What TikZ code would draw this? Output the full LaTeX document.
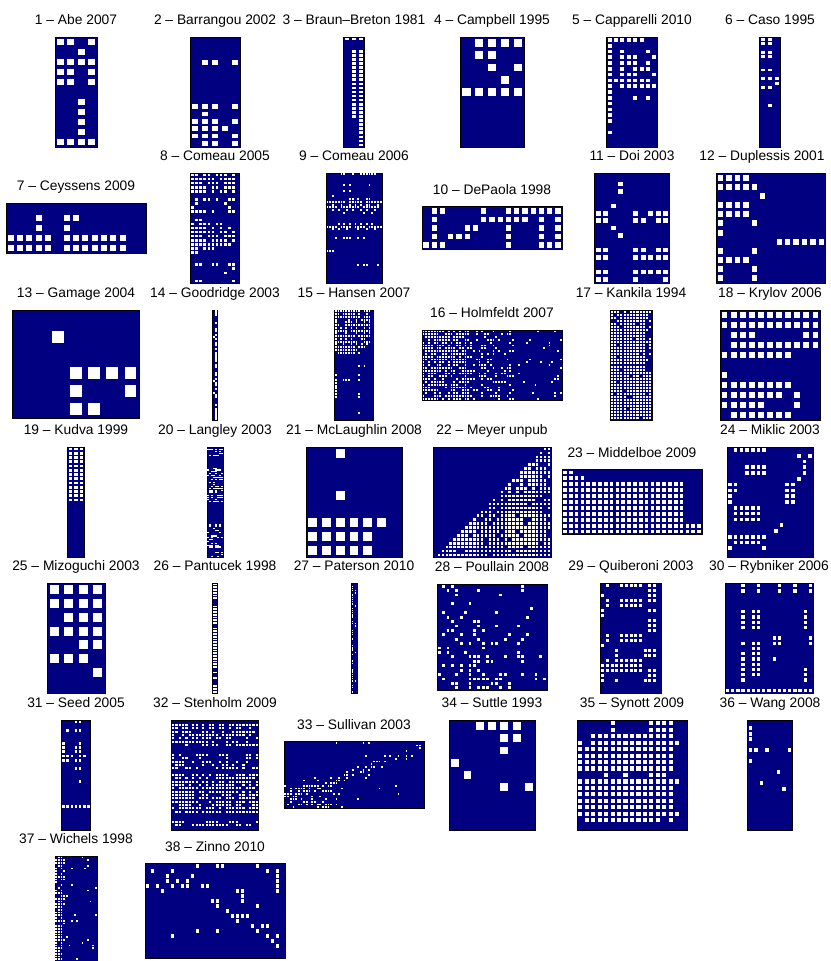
\documentclass[tikz,border=0pt]{standalone}
\usepackage{fontspec}
\setmainfont{Liberation Sans}
\usetikzlibrary{positioning}
\definecolor{navy}{RGB}{0,0,128}

% white cells given row by row: row/{columns}
\newcommand{\cellgrid}[4]{%
  \path (#1.north west); \pgfgetlastxy{\gxa}{\gya}%
  \path (#1.south east); \pgfgetlastxy{\gxb}{\gyb}%
  \pgfmathsetmacro\cw{(\gxb-\gxa)/#2}%
  \pgfmathsetmacro\ch{(\gya-\gyb)/#3}%
  \begin{scope}[shift={(#1.north west)}, x=\cw pt, y=-\ch pt]
    \foreach \ry/\cl in {#4}
      \foreach \cx in \cl
        \fill[cell] (\cx-.82,\ry-.82) rectangle (\cx-.18,\ry-.18);
  \end{scope}}

% white cells drawn with a probability p(\cx,\ry)
\newcommand{\randgrid}[5]{%
  \path (#1.north west); \pgfgetlastxy{\gxa}{\gya}%
  \path (#1.south east); \pgfgetlastxy{\gxb}{\gyb}%
  \pgfmathsetmacro\cw{(\gxb-\gxa)/#2}%
  \pgfmathsetmacro\ch{(\gya-\gyb)/#3}%
  \pgfmathsetseed{#4}%
  \begin{scope}[shift={(#1.north west)}, x=\cw pt, y=-\ch pt]
    \foreach \cx in {1,...,#2}
      \foreach \ry in {1,...,#3}{
        \pgfmathtruncatemacro\hit{rnd<(#5)}
        \ifnum\hit=1 \fill[cell] (\cx-.82,\ry-.82) rectangle (\cx-.18,\ry-.18);\fi}
  \end{scope}}

\begin{document}
\begin{tikzpicture}[x=1pt, y=-1pt,
  panel/.style={draw=black, line width=0.5pt, fill=navy, inner sep=0pt, outer sep=0pt},
  wh/.style 2 args={minimum width=#1pt, minimum height=#2pt},
  ttl/.style={inner sep=0pt, outer sep=0pt, text depth=0pt, font=\fontsize{13.8}{16}\selectfont},
  cell/.style={fill=white},
  node distance=12.5pt
]
\useasboundingbox (0,0) rectangle (830,961);
\clip (0,0) rectangle (830,961);

% row 1
\node[panel, wh={42}{110}] (p1) at (76,92) {};
\node[ttl, above=of p1] (t1) {1 -- Abe 2007};
\cellgrid{p1}{4}{11}{1/{1,2,4},2/3,3/{1,...,4},4/{1,2,4},5/{1,2,4},7/3,8/3,9/3,10/3,11/{1,...,4}}

\node[panel, wh={50}{110}] (p2) at (215,92) {};
\node[ttl, above=of p2] (t2) {2 -- Barrangou 2002};
\cellgrid{p2}{5}{15}{4/{2,3,5},10/{1,2,3,5},11/2,12/{1,2,3,5},13/{1,...,4},14/{1,2,3,5},15/{2,3,5}}

\node[panel, wh={21}{110}] (p3) at (354,92) {};
\node[ttl, above=of p3] (t3) {3 -- Braun--Breton 1981};
\randgrid{p3}{3}{27}{1}{(\ry==1)||((\ry>=4)&&(\ry<=20)&&(\cx>=2))||((\ry>=21)&&(\cx==3))}

\node[panel, wh={64}{110}] (p4) at (492,92) {};
\node[ttl, above=of p4] (t4) {4 -- Campbell 1995};
\cellgrid{p4}{5}{9}{1/{2,...,5},2/{2,3},3/{3,5},4/4,5/{1,...,5}}

\node[panel, wh={51}{110}] (p5) at (632,92) {};
\node[ttl, above=of p5] (t5) {5 -- Capparelli 2010};
\cellgrid{p5}{8}{19}{1/{1,...,6},2/1,3/{1,3,7},4/{1,3,4,5,8},5/{1,3,4,5,7},6/{1,3,5,6,7},7/{1,3,4,5,8},8/{1,...,7},9/{1,3,4,...,8},10/1,11/{1,5,7},12/1,13/1,14/1,15/1,17/1}

\node[panel, wh={21}{110}] (p6) at (770,92) {};
\node[ttl, above=of p6] (t6) {6 -- Caso 1995};
\cellgrid{p6}{3}{25}{1/{1,2},2/{1,2},4/{1,2},5/{1,2},8/{1,2},10/{1,2,3},11/3,12/{1,2},16/2}

% row 2
\node[panel, wh={140}{50}] (p7) at (76,228) {};
\node[ttl, above=of p7] (t7) {7 -- Ceyssens 2009};
\cellgrid{p7}{15}{5}{2/{4,7,8},3/{4,7},4/{1,...,5,7,8,...,13},5/{1,...,5,7,8,...,13}}

\node[panel, wh={49}{110}] (p8) at (215,228) {};
\node[ttl, above=of p8] (t8) {8 -- Comeau 2005};
\cellgrid{p8}{12}{27}{1/{1,2,4,5,7,8,9,11},2/{1,...,6,8,9,...,11},3/{1,2,3,5,6,7,9,10,11},4/{1,...,4,6,7,9,10,11},5/{1,...,4,6,8,9,11},7/{2,4,5,7,10,11},8/{2,9},9/{1,10},10/{1,...,4,6,10,11},12/{2,3},13/{1,3,4,5,7,8},14/{1,...,4,6,8,10},15/{1,...,6,8,9,11},16/{1,2,3,5,6,7,9,10,11},17/{1,...,4,6,7,...,9,11},18/{1,...,10},19/{1,2,4,5,6},20/{1,2},23/{2,3,6,7,10,11},24/11,25/9,27/{2,3,11}}

\node[panel, wh={56}{110}] (p9) at (354,228) {};
\node[ttl, above=of p9] (t9) {9 -- Comeau 2006};
\cellgrid{p9}{20}{40}{1/{6,7,10,13,14,...,18},5/{7,9,16},7/{7,9},9/3,10/{9,10,12,15,16},11/{1,...,7,9,10,...,13,15,16,...,20},12/{3,6,9,11,13,15,16,19},13/{1,...,4,6,7,...,12,14,15,...,19},14/{3,5,8,10,13,15,18},15/{7,14,17},19/{5,7,9,11,13,15,17},20/{1,...,4,6,7,...,9,11,12,...,14,16,17,...,20},21/{3,5,8,12,15,18},24/{4,7,8,9,12,14},29/{1,2,3},34/{12,14,15,19}}

\node[panel, wh={140}{43}] (p10) at (492,228) {};
\node[ttl, above=of p10] (t10) {10 -- DePaola 1998};
\cellgrid{p10}{17}{5}{1/{2,3,8,11,12,...,17},2/{2,8,9,...,13,15,17},3/{2,6,7,11,15,17},4/{2,4,5,6,11,15,17},5/{1,2,3,11,15,16,17}}

\node[panel, wh={75}{110}] (p11) at (632,228) {};
\node[ttl, above=of p11] (t11) {11 -- Doi 2003};
\cellgrid{p11}{10}{15}{2/4,3/4,5/3,6/{1,2,6,8,9,10},7/{1,2,6,7,9,10},8/3,9/4,11/{1,2,6,7,9,10},12/{1,2,6,7,...,10},14/{1,2,6,7,...,10},15/{1,2,6,10}}

\node[panel, wh={109}{110}] (p12) at (771,228) {};
\node[ttl, above=of p12, xshift=-9pt] (t12) {12 -- Duplessis 2001};
\cellgrid{p12}{13}{12}{1/{1,...,4},2/{1,...,5},3/6,4/{1,...,4},5/{1,...,4},6/{1,5},7/1,8/{8,...,13},9/{1,5},10/{1,...,4},11/{1,5},12/{1,5}}

% row 3
\node[panel, wh={127}{108}] (p13) at (76,364) {};
\node[ttl, above=of p13] (t13) {13 -- Gamage 2004};
\cellgrid{p13}{7}{6}{2/3,4/{4,...,7},5/{4,7},6/{4,5}}

\node[panel, wh={5}{110}] (p14) at (215,365) {};
\node[ttl, above=of p14] (t14) {14 -- Goodridge 2003};
\randgrid{p14}{2}{55}{14}{0.05+0.5*(\cx==2)}

\node[panel, wh={39}{110}] (p15) at (354,365) {};
\node[ttl, above=of p15] (t15) {15 -- Hansen 2007};
\cellgrid{p15}{15}{40}{1/{1,...,10,12,13,14},2/{1,2,4,5,...,8,10,13},3/{1,...,10,12,13,14},4/{1,6,9,11,12,...,14},5/{1,5,6,7,9,12,14},6/{1,2,5,6,...,14},7/{1,3,5,7,9,12,14},8/{1,...,5,7,8,...,14},9/{1,5,9,12,14},10/{1,...,8,10,11,...,14},11/{1,3,5,7,11,12},12/{1,...,9,12,13,14},13/{1,4,7,9,11,13},14/{1,...,8,10,11,12},15/{1,...,9},16/{2,...,8,10},21/{10,12},24/{1,10},26/{1,4,5,6,10},27/1,28/1,29/1,30/1,31/{1,10},32/{1,10},38/10}

\node[panel, wh={140}{70}] (p16) at (492,365) {};
\node[ttl, above=of p16] (t16) {16 -- Holmfeldt 2007};
\randgrid{p16}{50}{25}{16}{0.7*(\cx<18)+0.3*((\cx>=18)&&(\cx<34))+0.05*(\cx>=34)}

\node[panel, wh={42}{110}] (p17) at (631,365) {};
\node[ttl, above=of p17] (t17) {17 -- Kankila 1994};
\randgrid{p17}{13}{36}{17}{0.94-0.49*((\cx>=12)&&(\ry<=20))}

\node[panel, wh={100}{110}] (p18) at (770,365) {};
\node[ttl, above=of p18] (t18) {18 -- Krylov 2006};
\cellgrid{p18}{11}{11}{1/{1,...,11},2/{1,...,11},3/{2,3,4,10,11},4/{2,...,11},5/{1,...,8},7/1,8/{1,...,8},9/{1,...,7,9},10/{1,...,5,9},11/{2,...,8}}

% row 4
\node[panel, wh={17}{110}] (p19) at (76,502) {};
\node[ttl, above=of p19] (t19) {19 -- Kudva 1999};
\randgrid{p19}{3}{26}{19}{\ry<=13}

\node[panel, wh={16}{110}] (p20) at (215,502) {};
\node[ttl, above=of p20] (t20) {20 -- Langley 2003};
\randgrid{p20}{8}{60}{20}{0.4*(((\ry>=2)&&(\ry<=5))||((\ry>=12)&&(\ry<=18))||((\ry>=20)&&(\ry<=25))||((\ry>=27)&&(\ry<=30))||((\ry>=43)&&(\ry<=47))||((\ry>=49)&&(\ry<=56))||(\ry>=58))}

\node[panel, wh={96}{110}] (p21) at (354,502) {};
\node[ttl, above=of p21] (t21) {21 -- McLaughlin 2008};
\cellgrid{p21}{7}{8}{1/3,4/3,6/{1,...,6},7/{1,...,5},8/{1,...,5}}

\node[panel, wh={118}{110}] (p22) at (492,502) {};
\node[ttl, above=of p22] (t22) {22 -- Meyer unpub};
\randgrid{p22}{30}{28}{22}{0.85*(\cx>=28.5-(\ry-1)*27.5/27)}

\node[panel, wh={140}{65}] (p23) at (632,502) {};
\node[ttl, above=of p23] (t23) {23 -- Middelboe 2009};
\randgrid{p23}{24}{11}{23}{((\ry==1)&&(\cx<=2))||((\ry==2)&&(\cx<=4))||((\ry>=3)&&(\ry<=9)&&(\cx<=21))||(\ry>=10)}

\node[panel, wh={86}{110}] (p24) at (770,502) {};
\node[ttl, above=of p24] (t24) {24 -- Miklic 2003};
\cellgrid{p24}{15}{19}{1/{2,...,7},2/{13,15},3/14,4/{4,...,7,14},5/{4,...,7,14},6/13,7/{1,2,11,12},8/{1,2,11,12},9/{1,11,12},10/{1,11,12},11/{2,...,6},12/{2,...,6},13/{2,...,6},14/10,15/9,16/{1,...,7},17/{2,...,6},18/{1,7}}

% row 5
\node[panel, wh={58}{110}] (p25) at (76,638) {};
\node[ttl, above=of p25] (t25) {25 -- Mizoguchi 2003};
\cellgrid{p25}{4}{8}{1/{1,...,4},2/{1,...,4},3/{2,3,4},4/{1,...,4},5/{3,4},6/{1,2,3},7/4}

\node[panel, wh={5}{110}] (p26) at (215,638) {};
\node[ttl, above=of p26] (t26) {26 -- Pantucek 1998};
\randgrid{p26}{1}{40}{26}{0.8}

\node[panel, wh={6}{110}] (p27) at (354,638) {};
\node[ttl, above=of p27] (t27) {27 -- Paterson 2010};
\randgrid{p27}{2}{50}{27}{0.15+0.5*(\cx==1)}

\node[panel, wh={110}{106}] (p28) at (492,637) {};
\node[ttl, above=of p28] (t28) {28 -- Poullain 2008};
\randgrid{p28}{25}{24}{28}{0.03+0.42*(\ry/24)*(1-\cx/26)}

\node[panel, wh={61}{110}] (p29) at (631,638) {};
\node[ttl, above=of p29] (t29) {29 -- Quiberoni 2003};
\cellgrid{p29}{13}{22}{1/{2,5,6,...,9,11,12},2/{11,12},3/{1,11,12},4/{2,5,6,...,9,11,12},5/{2,5,6,...,9},6/{1,11,12},7/1,8/{11,12},9/{11,12},10/{11,12},11/{2,5,6,...,9},12/{2,5,6,...,9},13/1,14/{4,10,11,12},15/{4,10,11,12},16/{2,4,5,...,9},17/{1,...,9},18/{1,...,9,11,12},19/{1,11,12},20/{1,4,10,11,12}}

\node[panel, wh={88}{110}] (p30) at (769,638) {};
\node[ttl, above=of p30] (t30) {30 -- Rybniker 2006};
\cellgrid{p30}{17}{21}{1/{4,7,11,14,17},2/{4,7,11,14,17},6/{4,6,7,16},7/{4,6,7,16},8/{4,6,7,16},9/{4,6,7,16},11/{10,11,17},12/{4,6,7,10,11,17},13/{6,7},14/{4,6,7},15/{4,6,7,10},16/{4,6,7},17/{4,6,7,16},18/{4,6,7,16},19/{4,16},21/{1,...,17}}

% row 6
\node[panel, wh={29}{110}] (p31) at (76,775) {};
\node[ttl, above=of p31] (t31) {31 -- Seed 2005};
\cellgrid{p31}{7}{26}{1/{4,5},3/{2,4,5},6/{1,5},7/{1,4,5},8/{1,4,5},9/{1,2,3,5,6},10/{1,2,4,5},12/{4,5},15/5,21/{1,...,7}}

\node[panel, wh={87}{110}] (p32) at (215,775) {};
\node[ttl, above=of p32] (t32) {32 -- Stenholm 2009};
\randgrid{p32}{26}{33}{32}{0.65*((\ry>=2)&&(\ry<=8))+0.4*((\ry>=11)&&(\ry<=15))+0.72*((\ry>=17)&&(\ry<=28))+0.6*((\ry>=31)&&(\ry<=32))}

\node[panel, wh={140}{67}] (p33) at (354,775) {};
\node[ttl, above=of p33] (t33) {33 -- Sullivan 2003};
\randgrid{p33}{52}{25}{33}{0.01+0.28*(abs(\ry-(21-(\cx-1)*18/51))<2)+0.3*((\cx<=22)&&(\ry>=17))}

\node[panel, wh={86}{110}] (p34) at (492,775) {};
\node[ttl, above=of p34] (t34) {34 -- Suttle 1993};
\cellgrid{p34}{7}{9}{1/{3,...,6},2/{5,6},3/5,4/1,5/2,6/{5,7}}

\node[panel, wh={110}{110}] (p35) at (632,775) {};
\node[ttl, above=of p35] (t35) {35 -- Synott 2009};
\cellgrid{p35}{17}{17}{1/{6,12,13,...,15},2/{6,12,13,...,15},3/{3,...,15},4/{1,3,4,...,16},5/{1,...,15},6/{1,...,15},7/{1,...,15},8/{1,...,15},9/{5,8,12,13,14},10/{1,...,16},11/{1,...,15},12/{1,...,15},13/{1,...,15},14/{1,...,15},15/{1,...,16},16/{2,...,13,15}}

\node[panel, wh={45}{110}] (p36) at (770,775) {};
\node[ttl, above=of p36] (t36) {36 -- Wang 2008};
\cellgrid{p36}{8}{20}{2/1,3/1,4/1,6/{1,2,4,8},8/1,10/6,12/3,13/7}

% row 7
\node[panel, wh={42}{110}] (p37) at (76,911) {};
\node[ttl, above=of p37] (t37) {37 -- Wichels 1998};
\randgrid{p37}{16}{40}{37}{0.04+0.71*(\cx<=3)+0.26*(\cx==4)}

\node[panel, wh={140}{95}] (p38) at (215,911) {};
\node[ttl, above=of p38] (t38) {38 -- Zinno 2010};
\cellgrid{p38}{28}{19}{1/{11,15,16,23},2/{2,6,25,27},3/{5,10,27},4/{5,7,9,27},5/{1,3,6,8,9,12,13,27},6/{4,19,20,27},7/20,8/{14,15,20},9/{15,23},10/17,11/{18,...,21},12/19,13/{22,24,25},14/{11,15,23},15/{6,25,27},16/26,17/27}
\end{tikzpicture}
\end{document}
